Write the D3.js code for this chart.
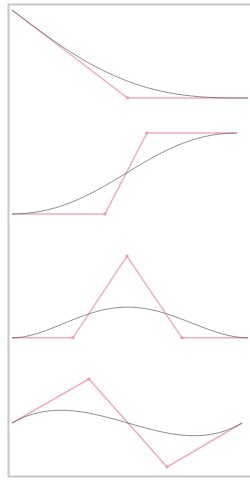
<!DOCTYPE html>
<html>
<head>
<meta charset="utf-8">
<script src="https://cdn.jsdelivr.net/npm/d3@7"></script>
<style>
  body { margin: 0; background: #fff; }
  svg { display: block; }
</style>
</head>
<body>
<svg id="chart" width="250" height="482"></svg>
<script>
    // control points per panel, x and y in [0,1]
    const panel1X = [0, 0.245, 0.49, 0.745, 1];
    const panel1Y = [1, 0.5, 0, 0, 0];
    const panel2X = [0, 0.394, 0.572, 0.953];
    const panel2Y = [0.08, 0.08, 1, 1];
    const panel3X = [0, 0.258, 0.487, 0.72, 1];
    const panel3Y = [0.07, 0.07, 1, 0.07, 0.07];
    const panel4X = [0, 0.326, 0.657, 0.975];
    const panel4Y = [0.5, 1, 0, 0.5];
    const panelsX = [panel1X, panel2X, panel3X, panel4X];
    const panelsY = [panel1Y, panel2Y, panel3Y, panel4Y];

    const bandTop = 10;
    const bandStep = 123;
    const bandH = 88;
    const pink = "#f2adba";

    const svg = d3.select("#chart");

    // frame
    svg.append("rect")
        .attr("x", 8.5).attr("y", 4.5)
        .attr("width", 250).attr("height", 472)
        .attr("fill", "none")
        .attr("stroke", "#c8c8c8")
        .attr("stroke-width", 2);

    const xScale = d3.scaleLinear().domain([0, 1]).range([12, 248]);

    // de Casteljau
    const bezier = (pts, t) => {
        let p = pts.map(d => d.slice());
        while (p.length > 1) {
            const q = [];
            for (let k = 0; k < p.length - 1; k++) {
                q.push([p[k][0] + (p[k + 1][0] - p[k][0]) * t, p[k][1] + (p[k + 1][1] - p[k][1]) * t]);
            }
            p = q;
        }
        return p[0];
    };

    for (let i = 0; i < panelsX.length; i++) {
        const top = bandTop + bandStep * i;
        const yScale = d3.scaleLinear().domain([0, 1]).range([top + bandH, top]);
        const pts = panelsX[i].map((x, j) => [x, panelsY[i][j]]);
        const g = svg.append("g");

        const line = d3.line()
            .x(d => xScale(d[0]))
            .y(d => yScale(d[1]));

        g.append("path")
            .attr("d", line(pts))
            .attr("fill", "none")
            .attr("stroke", pink)
            .attr("stroke-width", 1.5);

        const curve = d3.range(0, 1.0001, 0.01).map(t => bezier(pts, t));
        g.append("path")
            .attr("d", line(curve))
            .attr("fill", "none")
            .attr("stroke", "#555")
            .attr("stroke-opacity", 0.85)
            .attr("stroke-width", 0.8);

        // only the corner points get a dot
        const corners = pts.filter((d, j) => j > 0 && j < pts.length - 1 &&
            Math.abs((d[1] - pts[j - 1][1]) * (pts[j + 1][0] - d[0]) - (pts[j + 1][1] - d[1]) * (d[0] - pts[j - 1][0])) > 1e-3);
        g.selectAll("circle")
            .data(corners)
            .join("circle")
            .attr("cx", d => xScale(d[0]))
            .attr("cy", d => yScale(d[1]))
            .attr("r", 1.8)
            .attr("fill", "#e88a9c")
            .attr("fill-opacity", 0.6);
    }
</script>
</body>
</html>
